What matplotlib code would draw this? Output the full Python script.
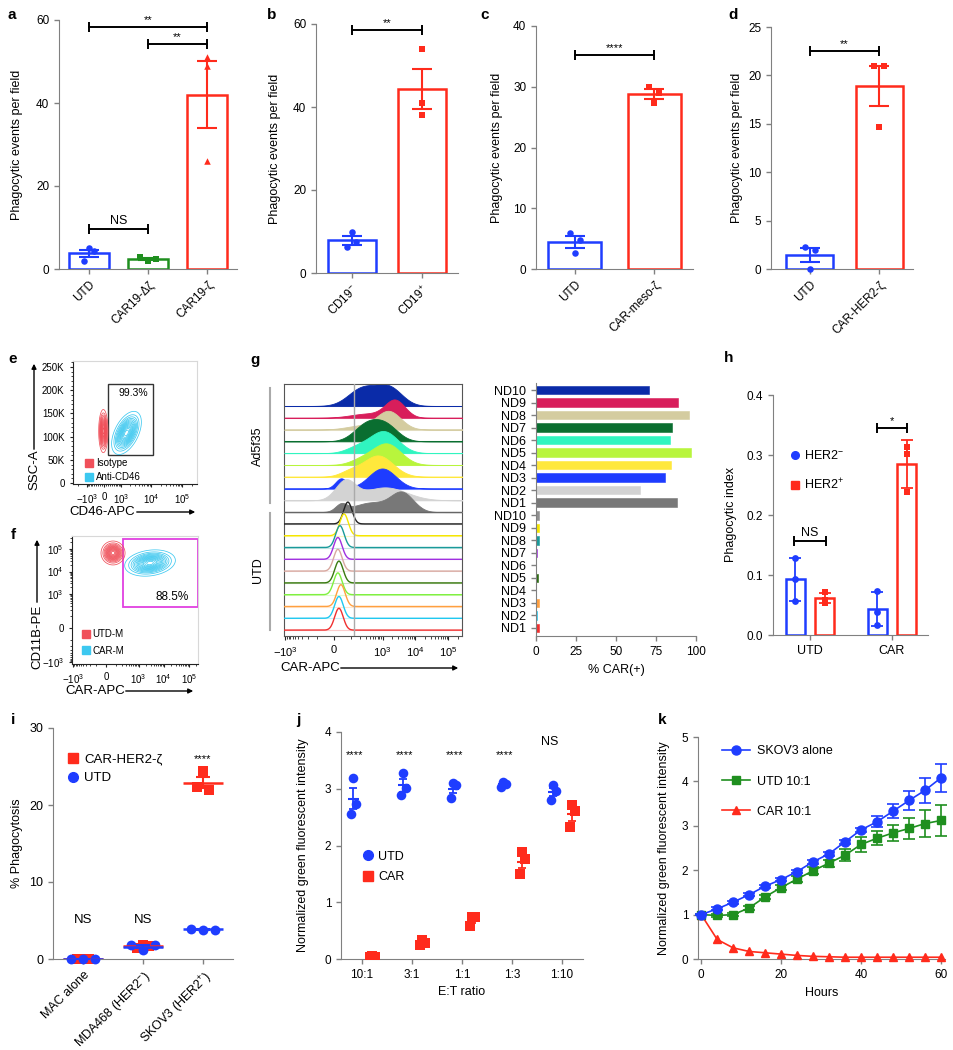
import numpy as np
import matplotlib
matplotlib.use('Agg')
import matplotlib.pyplot as plt
from matplotlib.lines import Line2D
from matplotlib.patches import Rectangle, FancyArrowPatch

plt.rcParams['font.family'] = ['Liberation Sans', 'DejaVu Sans']
plt.rcParams['mathtext.fontset'] = 'custom'
plt.rcParams['mathtext.rm'] = 'Liberation Sans'
plt.rcParams['mathtext.it'] = 'Liberation Sans:italic'
plt.rcParams['mathtext.bf'] = 'Liberation Sans:bold'
plt.rcParams['axes.edgecolor'] = '#808080'
plt.rcParams['xtick.color'] = '#808080'
plt.rcParams['ytick.color'] = '#808080'
plt.rcParams['xtick.labelcolor'] = 'black'
plt.rcParams['ytick.labelcolor'] = 'black'

# ---------------- data ----------------
a_labels = ['UTD', 'CAR19-Δζ', 'CAR19-ζ']
a_values = [[5.0, 4.3, 2.0], [2.9, 2.0, 2.4], [51.0, 49.0, 26.0]]

b_labels = ['CD19$^{-}$', 'CD19$^{+}$']
b_values = [[10.0, 7.5, 6.3], [54.0, 41.0, 38.0]]

c_labels = ['UTD', 'CAR-meso-ζ']
c_values = [[6.0, 4.7, 2.7], [30.0, 29.0, 27.3]]

d_labels = ['UTD', 'CAR-HER2-ζ']
d_values = [[2.3, 2.0, 0.0], [21.0, 21.0, 14.7]]

# flow populations (centre, spread in asinh units / linear units, tilt)
e_pops = ['Isotype', 'Anti-CD46']
e_cx = [-30, 1530]
e_cy = [112000, 108000]
e_sx = [0.14, 0.45]
e_sy = [19000, 19000]
e_rho = [0.0, 0.5]
e_gate = '99.3%'

f_pops = ['UTD-M', 'CAR-M']
f_cx = [69, 2840]
f_cy = [67000, 24000]
f_sx = [0.45, 0.95]
f_sy = [0.5, 0.55]
f_rho = [0.0, 0.2]
f_gate = '88.5%'

g_donors = ['ND10', 'ND9', 'ND8', 'ND7', 'ND6', 'ND5', 'ND4', 'ND3', 'ND2', 'ND1']
g_ad_pct = [70.9, 88.8, 95.4, 85.0, 83.8, 96.9, 84.6, 80.9, 64.7, 87.9]
g_utd_pct = [1.7, 2.1, 2.1, 0.8, 0.1, 1.0, 0.1, 2.0, 0.5, 1.6]
g_ad_colors = ['#0a2ba8', '#d81e5b', '#d4cca0', '#0a6e30', '#30f5c0',
               '#b8f53c', '#ffe83c', '#1e3cff', '#d3d3d3', '#787878']
g_utd_colors = ['#222222', '#f5e600', '#1a9a9a', '#a030e0', '#d8a8a0',
                '#3a7a10', '#80f040', '#ffa040', '#20c8f0', '#f03030']
g_utd_bar_colors = ['#909090', '#f5e600', '#1a9a9a', '#a030e0', '#d8a8a0',
                    '#2a6a10', '#80f040', '#ffa040', '#20c8f0', '#f03030']
# histogram modes (asinh units, width, height in row units)
g_ad_modes = [
    [(2.0, 1.0, 1.5), (3.9, 0.9, 1.5)],
    [(4.3, 0.7, 1.45), (2.4, 1.2, 0.35)],
    [(3.85, 0.85, 1.55), (1.8, 1.0, 0.3)],
    [(2.3, 0.9, 1.4), (3.7, 0.85, 1.2)],
    [(3.5, 1.0, 1.85), (1.6, 0.8, 0.45)],
    [(3.7, 1.0, 1.8), (1.9, 0.8, 0.4)],
    [(3.1, 1.05, 1.8), (1.1, 0.7, 0.4)],
    [(3.4, 0.95, 1.7), (0.5, 0.4, 0.85)],
    [(0.8, 0.7, 1.6), (3.6, 1.5, 1.1)],
    [(4.8, 0.8, 1.6), (2.6, 1.2, 0.8), (0.5, 0.4, 0.6)],
]
g_utd_peak = [74, 50, 28, 18, 18, 23, 18, 33, 23, 23]
g_cutoff = 123

h_groups = ['UTD', 'CAR']
h_neg = [[0.128, 0.094, 0.056], [0.073, 0.039, 0.017]]
h_pos = [[0.071, 0.059, 0.054], [0.314, 0.302, 0.239]]

i_lines = ['MAC alone', 'MDA468 (HER2$^{-}$)', 'SKOV3 (HER2$^{+}$)']
i_car = [[0.0, 0.0, 0.0], [1.8, 1.4, 1.7], [24.4, 22.3, 22.0]]
i_utd = [[0.0, 0.0, 0.0], [1.8, 1.2, 1.8], [3.9, 3.8, 3.8]]

j_ratios = ['10:1', '3:1', '1:1', '1:3', '1:10']
j_utd = [[3.19, 2.74, 2.55], [3.28, 3.02, 2.89], [3.10, 3.07, 2.84],
         [3.12, 3.08, 3.03], [3.06, 2.96, 2.80]]
j_car = [[0.05, 0.04, 0.03], [0.34, 0.28, 0.25], [0.74, 0.74, 0.59],
         [1.89, 1.76, 1.50], [2.71, 2.61, 2.33]]
j_sig = ['****', '****', '****', '****', 'NS']

k_hours = [0, 4, 8, 12, 16, 20, 24, 28, 32, 36, 40, 44, 48, 52, 56, 60]
k_skov3 = [1.0, 1.13, 1.28, 1.45, 1.64, 1.79, 1.97, 2.19, 2.37, 2.64, 2.91, 3.09, 3.33, 3.57, 3.80, 4.08]
k_skov3_err = [0.02, 0.03, 0.03, 0.03, 0.03, 0.04, 0.04, 0.04, 0.05, 0.05, 0.05, 0.12, 0.16, 0.21, 0.28, 0.31]
k_utd = [1.0, 0.98, 1.0, 1.15, 1.40, 1.61, 1.80, 1.99, 2.16, 2.34, 2.58, 2.72, 2.84, 2.94, 3.05, 3.12]
k_utd_err = [0.02, 0.03, 0.03, 0.04, 0.05, 0.06, 0.06, 0.08, 0.08, 0.13, 0.16, 0.16, 0.18, 0.24, 0.30, 0.35]
k_car = [1.0, 0.44, 0.25, 0.17, 0.14, 0.11, 0.08, 0.06, 0.05, 0.04, 0.04, 0.04, 0.04, 0.04, 0.04, 0.04]

BLUE = '#1f3dff'
RED = '#ff2b1c'
GREEN = '#1f8f1f'
TICK_FS = 8.5
LAB_FS = 9

W, H = 954, 1050
fig = plt.figure(figsize=(W / 100, H / 100), dpi=100)


def px_ax(l, t, r, b):
    return fig.add_axes([l / W, 1 - b / H, (r - l) / W, (b - t) / H])


def fx(x):
    return x / W


def fy(y):
    return 1 - y / H


def sem(v):
    v = np.asarray(v)
    return v.std(ddof=1) / np.sqrt(len(v))


def style(ax, fs=TICK_FS):
    for s in ['top', 'right']:
        ax.spines[s].set_visible(False)
    ax.tick_params(labelsize=fs, length=3.5, width=1)


def sig(ax, x1, x2, y, text, fs=8):
    ax.plot([x1, x2], [y, y], color='black', lw=1.4, marker='|', ms=7, mew=1.4, clip_on=False, zorder=5)
    ax.annotate(text, ((x1 + x2) / 2, y), xytext=(0, 1.5), textcoords='offset points',
                ha='center', va='bottom', fontsize=fs)


def bar_panel(ax, labels, values, colors, markers, jitters, xlim, width, capsize=7.5):
    for i, vals in enumerate(values):
        v = np.asarray(vals)
        ax.bar(i, v.mean(), width, fill=False, edgecolor=colors[i], linewidth=1.8, zorder=2)
        ax.errorbar(i, v.mean(), yerr=sem(v), color=colors[i], capsize=capsize,
                    elinewidth=1.5, capthick=1.5, zorder=3)
        ax.scatter(i + np.asarray(jitters[i]), v, marker=markers[i], s=22, color=colors[i],
                   zorder=4, clip_on=False, linewidths=0)
    ax.set_xlim(*xlim)
    ax.set_xticks(range(len(labels)))
    ax.set_xticklabels(labels, rotation=45, ha='right', rotation_mode='anchor')
    style(ax)
    ax.set_ylabel('Phagocytic events per field', fontsize=LAB_FS)


# ---------------- a ----------------
ax = px_ax(59, 20, 237, 269)
bar_panel(ax, a_labels, a_values, [BLUE, GREEN, RED], ['o', 's', '^'],
          [[0, 0.09, -0.09], [-0.14, 0, 0.14], [0, 0, 0]], (-0.51, 2.51), 0.68)
ax.set_ylim(0, 60)
ax.set_yticks([0, 20, 40, 60])
sig(ax, 0, 2, 58.3, '**')
sig(ax, 1, 2, 54.2, '**')
sig(ax, 0, 1, 9.6, 'NS', fs=9)
ax.yaxis.set_label_coords(-0.202, 0.5)

# ---------------- b ----------------
ax = px_ax(316, 24, 458, 273)
bar_panel(ax, b_labels, b_values, [BLUE, RED], ['o', 's'],
          [[0, 0.06, -0.07], [0, 0, 0]], (-0.51, 1.51), 0.69)
ax.set_ylim(0, 60)
ax.set_yticks([0, 20, 40, 60])
sig(ax, 0, 1, 58.5, '**')
ax.yaxis.set_label_coords(-0.246, 0.5)

# ---------------- c ----------------
ax = px_ax(536, 26, 693, 269)
bar_panel(ax, c_labels, c_values, [BLUE, RED], ['o', 's'],
          [[-0.06, 0.06, 0], [-0.06, 0.06, 0]], (-0.49, 1.49), 0.67)
ax.set_ylim(0, 40)
ax.set_yticks([0, 10, 20, 30, 40])
sig(ax, 0, 1, 35.2, '****')
ax.yaxis.set_label_coords(-0.21, 0.5)

# ---------------- d ----------------
ax = px_ax(771, 27, 913, 269)
bar_panel(ax, d_labels, d_values, [BLUE, RED], ['o', 's'],
          [[-0.07, 0.07, 0], [-0.08, 0.07, 0]], (-0.56, 1.49), 0.68)
ax.set_ylim(0, 25)
ax.set_yticks([0, 5, 10, 15, 20, 25])
sig(ax, 0, 1, 22.5, '**')
ax.yaxis.set_label_coords(-0.197, 0.5)


# ---------------- flow helpers ----------------
def gauss2d(U, V, cu, su, cv, sv, rho):
    a = (U - cu) / su
    b = (V - cv) / sv
    return np.exp(-(a * a - 2 * rho * a * b + b * b) / (2 * (1 - rho ** 2)))


def flow_minor(lo, hi, lin):
    out = []
    for n in range(1, 6):
        for k in range(1, 10):
            for sgn in (1, -1):
                v = sgn * k * 10 ** n
                if lo < v < hi and abs(v) >= lin and v not in (1000, -1000, 10000, 100000):
                    out.append(v)
    return out


def flow_style(ax):
    ax.spines['left'].set_color('#222222')
    ax.spines['bottom'].set_color('#222222')
    ax.spines['top'].set_color('#d8d8d8')
    ax.spines['right'].set_color('#d8d8d8')
    ax.tick_params(which='both', color='#222222', labelsize=7, length=2.5, width=0.8)
    ax.tick_params(which='minor', length=1.5, width=0.6)


def arrow(x0, y0, x1, y1):
    fig.add_artist(FancyArrowPatch((fx(x0), fy(y0)), (fx(x1), fy(y1)), transform=fig.transFigure,
                                   arrowstyle='-|>', mutation_scale=7, lw=1, color='black'))


pow_ticks = [-1000, 0, 1000, 10000, 100000]
pow_labels = ['$-10^{3}$', '0', '$10^{3}$', '$10^{4}$', '$10^{5}$']
pop_red = '#f0505a'
pop_blue = '#3cc8f0'

# ---------------- e ----------------
ax = px_ax(73, 361, 197, 484)
ax.set_xscale('asinh', linear_width=600)
ax.set_xlim(-2950, 294000)
ax.set_ylim(-2000, 263000)
U, V = np.meshgrid(np.linspace(-2.3, 6.9, 300), np.linspace(-2000, 263000, 300))
for k, col in enumerate([pop_red, pop_blue]):
    Z = gauss2d(U, V, np.arcsinh(e_cx[k] / 600), e_sx[k], e_cy[k], e_sy[k], e_rho[k])
    ax.contour(600 * np.sinh(U), V, Z, levels=np.linspace(0.05, 0.95, 14), colors=col, linewidths=0.55)
ax.add_patch(Rectangle((182, 60000), 11300 - 182, 214000 - 60000, fill=False, ec='#333333', lw=1))
ax.text(2550, 195000, e_gate, ha='center', va='center', fontsize=7.5)
ax.set_xticks(pow_ticks)
ax.set_xticklabels(pow_labels)
ax.set_xticks(flow_minor(-2950, 294000, 100), minor=True)
ax.set_yticks(range(0, 250001, 50000))
ax.set_yticklabels(['0', '50K', '100K', '150K', '200K', '250K'])
ax.set_yticks(range(0, 260001, 10000), minor=True)
flow_style(ax)
hnd = [Line2D([], [], ls='', marker='s', ms=5.5, color=c) for c in [pop_red, pop_blue]]
ax.legend(hnd, e_pops, loc='upper left', bbox_to_anchor=(0.05, 0.25), frameon=False, fontsize=7,
          borderpad=0, handletextpad=0.2, labelspacing=0.45, handlelength=1)
fig.text(fx(102), fy(512), 'CD46-APC', ha='center', va='center', fontsize=9.5)
arrow(134, 512, 198, 512)
fig.text(fx(34), fy(470), 'SSC-A', ha='center', va='center', fontsize=9.5, rotation=90)
arrow(34, 452, 34, 361)

# ---------------- f ----------------
ax = px_ax(72, 536, 198, 664)
ax.set_xscale('asinh', linear_width=100)
ax.set_yscale('asinh', linear_width=62)
ax.set_xlim(-1130, 232000)
ax.set_ylim(-1230, 381000)
U, V = np.meshgrid(np.linspace(-3.2, 8.5, 300), np.linspace(-3.7, 9.5, 300))
for k, col in enumerate([pop_red, pop_blue]):
    Z = gauss2d(U, V, np.arcsinh(f_cx[k] / 100), f_sx[k], np.arcsinh(f_cy[k] / 62), f_sy[k], f_rho[k])
    ax.contour(100 * np.sinh(U), 62 * np.sinh(V), Z, levels=np.linspace(0.05, 0.95, 14),
               colors=col, linewidths=0.55)
ax.add_patch(Rectangle((227, 264), 232000 - 227, 280000 - 264, fill=False, ec='#e040e0', lw=1.3,
                       clip_on=False))
ax.text(21400, 735, f_gate, ha='center', va='center', fontsize=8.5)
ax.set_xticks(pow_ticks)
ax.set_xticklabels(pow_labels)
ax.set_xticks(flow_minor(-1130, 232000, 100), minor=True)
ax.set_yticks(pow_ticks)
ax.set_yticklabels(pow_labels)
ax.set_yticks(flow_minor(-1230, 381000, 100), minor=True)
flow_style(ax)
hnd = [Line2D([], [], ls='', marker='s', ms=5.5, color=c) for c in [pop_red, pop_blue]]
ax.legend(hnd, f_pops, loc='upper left', bbox_to_anchor=(0.03, 0.31), frameon=False, fontsize=7,
          borderpad=0, handletextpad=0.2, labelspacing=0.65, handlelength=1)
fig.text(fx(95), fy(691), 'CAR-APC', ha='center', va='center', fontsize=9.5)
arrow(123, 691, 196, 691)
fig.text(fx(37), fy(637), 'CD11B-PE', ha='center', va='center', fontsize=9.5, rotation=90)
arrow(37, 605, 37, 537)

# ---------------- g histograms ----------------
ax = px_ax(284, 384, 462, 636)
ax.set_xscale('asinh', linear_width=65)
u = np.linspace(-3.5, 9.1, 700)
xg = 65 * np.sinh(u)
for i in range(20):
    base = 19 - i
    if i < 10:
        col = g_ad_colors[i]
        yv = np.zeros_like(u)
        for cu, su, hu in g_ad_modes[i]:
            yv += hu * np.exp(-(u - cu) ** 2 / (2 * su ** 2))
        ax.axhline(base, color=col, lw=0.8, alpha=0.35, zorder=2 * i)
        ax.fill_between(xg, base, base + yv, color=col, lw=0.6, zorder=2 * i + 1)
    else:
        col = g_utd_colors[i - 10]
        cu = np.arcsinh(g_utd_peak[i - 10] / 65)
        yv = 1.85 * np.exp(-(u - cu) ** 2 / (2 * 0.3 ** 2))
        ax.axhline(base, color=col, lw=0.8, alpha=0.25, zorder=2 * i)
        ax.plot(xg, base + yv, color=col, lw=1.0, zorder=2 * i + 1)
ax.axhline(10, color='#666666', lw=1, zorder=40)
ax.axvline(g_cutoff, color='#aaaaaa', lw=1, zorder=50)
ax.set_xlim(-1100, 268000)
ax.set_ylim(-0.5, 20.86)
ax.set_yticks([])
ax.set_xticks(pow_ticks)
ax.set_xticklabels(pow_labels)
ax.set_xticks(flow_minor(-1100, 268000, 100), minor=True)
for s in ax.spines.values():
    s.set_color('#555555')
ax.tick_params(which='both', color='#222222', labelsize=8, length=3, width=0.8)
ax.tick_params(which='minor', length=1.8, width=0.6)
fig.text(fx(310), fy(668), 'CAR-APC', ha='center', va='center', fontsize=9.5)
arrow(338, 668, 461, 668)
fig.text(fx(258), fy(446), 'Ad5f35', ha='center', va='center', fontsize=9, rotation=90)
fig.text(fx(258), fy(570), 'UTD', ha='center', va='center', fontsize=9, rotation=90)
fig.add_artist(Line2D([fx(270), fx(270)], [fy(388), fy(503)], color='#aaaaaa', lw=1.5))
fig.add_artist(Line2D([fx(270), fx(270)], [fy(513), fy(630)], color='#aaaaaa', lw=1.5))

# ---------------- g bars ----------------
ax = px_ax(536, 383, 696, 636)
pcts = g_ad_pct + g_utd_pct
cols = g_ad_colors + g_utd_bar_colors
ypos = [19 - i for i in range(20)]
ax.barh(ypos, pcts, height=0.68, color=cols, edgecolor=cols, linewidth=0.4)
ax.set_yticks(ypos)
ax.set_yticklabels(g_donors + g_donors)
ax.set_ylim(-0.64, 19.56)
ax.set_xlim(0, 100)
ax.set_xticks([0, 25, 50, 75, 100])
style(ax)
ax.tick_params(axis='y', labelsize=9)
ax.set_xlabel('% CAR(+)', fontsize=LAB_FS)
ax.xaxis.set_label_coords(0.5, -0.11)

# ---------------- h ----------------
ax = px_ax(773, 395, 928, 635)
off, bw = 0.18, 0.23
for g in range(2):
    for vals, c, m, dx in [(h_neg[g], BLUE, 'o', -off), (h_pos[g], RED, 's', off)]:
        v = np.asarray(vals)
        ax.bar(g + dx, v.mean(), bw, fill=False, edgecolor=c, linewidth=1.8, zorder=2)
        ax.errorbar(g + dx, v.mean(), yerr=v.std(ddof=1), color=c, capsize=4, elinewidth=1.3,
                    capthick=1.3, zorder=3)
        ax.scatter(np.full(3, g + dx), v, marker=m, s=24, color=c, zorder=4, linewidths=0)
ax.set_xlim(-0.45, 1.44)
ax.set_ylim(0, 0.4)
ax.set_yticks([0, 0.1, 0.2, 0.3, 0.4])
ax.set_yticklabels(['0.0', '0.1', '0.2', '0.3', '0.4'])
ax.set_xticks([0, 1])
ax.set_xticklabels(h_groups)
style(ax)
ax.tick_params(axis='x', labelsize=9)
sig(ax, -0.2, 0.195, 0.157, 'NS', fs=9)
sig(ax, 0.82, 1.18, 0.345, '*')
ax.set_ylabel('Phagocytic index', fontsize=LAB_FS)
ax.yaxis.set_label_coords(-0.232, 0.5)
hnd = [Line2D([], [], ls='', marker='o', ms=5.5, color=BLUE),
       Line2D([], [], ls='', marker='s', ms=5.5, color=RED)]
ax.legend(hnd, ['HER2$^{-}$', 'HER2$^{+}$'], loc='upper left', bbox_to_anchor=(0.06, 0.8),
          frameon=False, fontsize=9, borderpad=0, handletextpad=0.2, labelspacing=1.2,
          handlelength=1)

# ---------------- i ----------------
ax = px_ax(53, 728, 233, 959)
jit_red = [0, -0.1, 0.1]
jit_blue = [-0.2, 0, 0.2]
for vals_set, c, m, jit in [(i_car, RED, 's', jit_red), (i_utd, BLUE, 'o', jit_blue)]:
    for g, vals in enumerate(vals_set):
        v = np.asarray(vals)
        ax.scatter(g + np.asarray(jit), v, marker=m, s=50, color=c, zorder=3, clip_on=False, linewidths=0)
        ax.hlines(v.mean(), g - 0.33, g + 0.33, color=c, lw=1.8, zorder=4)
        ax.errorbar(g, v.mean(), yerr=sem(v), fmt='none', ecolor=c, capsize=5, elinewidth=1.5,
                    capthick=1.5, zorder=4)
ax.set_xlim(-0.5, 2.5)
ax.set_ylim(0, 30)
ax.set_yticks([0, 10, 20, 30])
ax.set_xticks([0, 1, 2])
ax.set_xticklabels(i_lines, rotation=45, ha='right', rotation_mode='anchor')
style(ax, fs=9)
ax.text(2, 25.3, '****', ha='center', va='bottom', fontsize=8)
ax.text(0, 4.3, 'NS', ha='center', va='bottom', fontsize=9.5)
ax.text(1, 4.3, 'NS', ha='center', va='bottom', fontsize=9.5)
ax.set_ylabel('% Phagocytosis', fontsize=LAB_FS)
ax.yaxis.set_label_coords(-0.167, 0.5)
hnd = [Line2D([], [], ls='', marker='s', ms=7, color=RED),
       Line2D([], [], ls='', marker='o', ms=7, color=BLUE)]
ax.legend(hnd, ['CAR-HER2-ζ', 'UTD'], loc='upper left', bbox_to_anchor=(0.04, 0.92),
          frameon=False, fontsize=9.5, borderpad=0, handletextpad=0.3, labelspacing=0.5,
          handlelength=1)

# ---------------- j ----------------
ax = px_ax(341, 732, 583, 959)
jit = [0, 0.05, -0.05]
for vals_set, c, m, dx in [(j_utd, BLUE, 'o', -0.18), (j_car, RED, 's', 0.2)]:
    for g, vals in enumerate(vals_set):
        v = np.asarray(vals)
        ax.scatter(g + dx + np.asarray(jit), v, marker=m, s=48, color=c, zorder=3, linewidths=0)
        ax.hlines(v.mean(), g + dx - 0.11, g + dx + 0.11, color=c, lw=1.5, zorder=4)
        ax.errorbar(g + dx, v.mean(), yerr=sem(v), fmt='none', ecolor=c, capsize=3, elinewidth=1.3,
                    capthick=1.3, zorder=4)
for g, t in enumerate(j_sig):
    if t == 'NS':
        ax.text(g - 0.25, 3.72, t, ha='center', va='bottom', fontsize=9)
    else:
        ax.text(g - 0.15, 3.5, t, ha='center', va='bottom', fontsize=8)
ax.set_xlim(-0.42, 4.42)
ax.set_ylim(0, 4)
ax.set_yticks([0, 1, 2, 3, 4])
ax.set_xticks(range(5))
ax.set_xticklabels(j_ratios)
style(ax)
ax.set_xlabel('E:T ratio', fontsize=LAB_FS)
ax.xaxis.set_label_coords(0.5, -0.12)
ax.set_ylabel('Normalized green fluorescent intensity', fontsize=LAB_FS)
ax.yaxis.set_label_coords(-0.132, 0.5)
hnd = [Line2D([], [], ls='', marker='o', ms=7, color=BLUE),
       Line2D([], [], ls='', marker='s', ms=7, color=RED)]
ax.legend(hnd, ['UTD', 'CAR'], loc='upper left', bbox_to_anchor=(0.06, 0.505),
          frameon=False, fontsize=9, borderpad=0, handletextpad=0.3, labelspacing=0.7,
          handlelength=1)

# ---------------- k ----------------
ax = px_ax(698, 737, 945, 959)
ax.errorbar(k_hours, k_car, color=RED, marker='^', ms=6, lw=1.2, zorder=3, clip_on=False)
ax.errorbar(k_hours, k_utd, yerr=k_utd_err, color=GREEN, marker='s', ms=6, lw=1.2, capsize=4,
            elinewidth=1.2, capthick=1.2, zorder=4, clip_on=False)
ax.errorbar(k_hours, k_skov3, yerr=k_skov3_err, color=BLUE, marker='o', ms=6.5, lw=1.2,
            capsize=4, elinewidth=1.2, capthick=1.2, zorder=5, clip_on=False)
ax.set_xlim(-0.8, 61)
ax.set_ylim(0, 5)
ax.set_yticks([0, 1, 2, 3, 4, 5])
ax.set_xticks([0, 20, 40, 60])
style(ax)
ax.set_xlabel('Hours', fontsize=LAB_FS)
ax.xaxis.set_label_coords(0.5, -0.125)
ax.set_ylabel('Normalized green fluorescent intensity', fontsize=LAB_FS)
ax.yaxis.set_label_coords(-0.113, 0.5)
hnd = [Line2D([], [], color=BLUE, marker='o', ms=6.5, lw=1.2),
       Line2D([], [], color=GREEN, marker='s', ms=6, lw=1.2),
       Line2D([], [], color=RED, marker='^', ms=6, lw=1.2)]
ax.legend(hnd, ['SKOV3 alone', 'UTD 10:1', 'CAR 10:1'], loc='upper left',
          bbox_to_anchor=(0.07, 0.99), frameon=False, fontsize=9, borderpad=0,
          handletextpad=0.5, labelspacing=1.45, handlelength=2.3)

# ---------------- panel letters ----------------
for t, x, y in [('a', 12, 15), ('b', 272, 15), ('c', 485, 15), ('d', 733, 15),
                ('e', 13, 359), ('f', 13, 535), ('g', 255, 360), ('h', 729, 358),
                ('i', 13, 720), ('j', 298, 720), ('k', 662, 720)]:
    fig.text(fx(x), fy(y), t, ha='center', va='center', fontsize=11, fontweight='bold')

fig.savefig('out.png', dpi=100)
